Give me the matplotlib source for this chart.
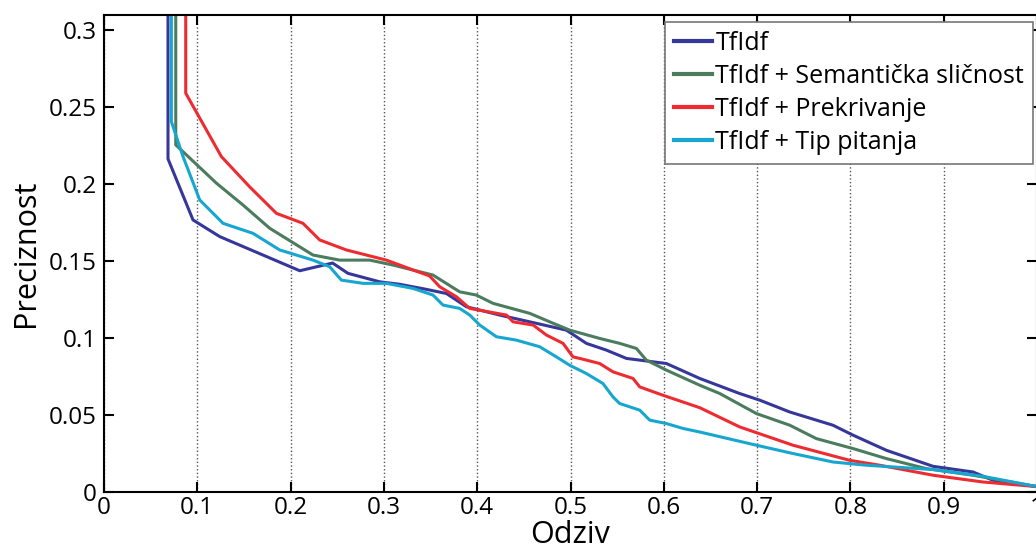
import matplotlib
matplotlib.use("Agg")
from matplotlib import pyplot as plt

plt.rcParams['font.family'] = ['Open Sans', 'DejaVu Sans']

# recall / precision points
tfidf_x = [0.0686, 0.0686, 0.0954, 0.124, 0.2098, 0.245, 0.2615, 0.2955, 0.317, 0.3455,
           0.367, 0.3884, 0.424, 0.4563, 0.4956, 0.517, 0.5385, 0.56, 0.6028, 0.6385,
           0.6813, 0.7028, 0.735, 0.7813, 0.803, 0.8386, 0.8886, 0.9314, 0.953, 1.0]
tfidf_y = [1.0, 0.2165, 0.1768, 0.166, 0.1438, 0.1488, 0.1421, 0.1366, 0.135, 0.1317,
           0.129, 0.1204, 0.115, 0.1106, 0.1052, 0.0966, 0.0922, 0.0868, 0.0835, 0.0738,
           0.064, 0.0597, 0.052, 0.0434, 0.0369, 0.0271, 0.0167, 0.013, 0.0076, 0.0035]

sem_x = [0.0769, 0.0769, 0.1205, 0.149, 0.1776, 0.224, 0.2526, 0.2848, 0.3097, 0.3526,
         0.3812, 0.399, 0.417, 0.4563, 0.4777, 0.4991, 0.5313, 0.5527, 0.5706, 0.5813,
         0.6028, 0.6385, 0.66, 0.6992, 0.735, 0.7635, 0.803, 0.8386, 0.8814, 0.9314, 1.0]
sem_y = [1.0, 0.2256, 0.2007, 0.1865, 0.1714, 0.154, 0.1507, 0.1507, 0.1475, 0.141,
         0.1301, 0.128, 0.1226, 0.1161, 0.1106, 0.1052, 0.0998, 0.0966, 0.0933, 0.0857,
         0.0792, 0.0694, 0.064, 0.051, 0.0434, 0.0347, 0.0282, 0.0217, 0.0152, 0.0109, 0.0035]

prek_x = [0.0876, 0.0876, 0.1258, 0.156, 0.1848, 0.2133, 0.2312, 0.2598, 0.3027, 0.3312,
          0.349, 0.3598, 0.3777, 0.392, 0.4313, 0.4384, 0.46, 0.4742, 0.492, 0.5027,
          0.51, 0.5313, 0.5455, 0.567, 0.5742, 0.599, 0.6385, 0.6813, 0.7385, 0.7992,
          0.8314, 0.8886, 0.942, 1.0]
prek_y = [1.0, 0.2592, 0.218, 0.1984, 0.1811, 0.1746, 0.1638, 0.1573, 0.1507, 0.1443,
          0.1404, 0.1334, 0.1269, 0.1193, 0.115, 0.1106, 0.1085, 0.102, 0.0966, 0.0878,
          0.0868, 0.0835, 0.0781, 0.0738, 0.0683, 0.0629, 0.0548, 0.0423, 0.0304, 0.0206,
          0.0174, 0.0109, 0.0065, 0.0035]

tip_x = [0.0722, 0.0722, 0.0847, 0.1026, 0.1276, 0.1597, 0.1883, 0.224, 0.2419, 0.2544,
         0.2776, 0.3027, 0.3312, 0.3526, 0.3633, 0.3812, 0.392, 0.4027, 0.4206, 0.442,
         0.467, 0.4849, 0.4991, 0.517, 0.5348, 0.5455, 0.5527, 0.5742, 0.5849, 0.6028,
         0.6206, 0.6385, 0.6992, 0.7385, 0.7813, 0.8171, 0.8886, 0.942, 1.0]
tip_y = [1.0, 0.2407, 0.218, 0.1898, 0.1746, 0.1681, 0.1573, 0.1507, 0.1464, 0.1377,
         0.1356, 0.1356, 0.1323, 0.128, 0.1215, 0.1193, 0.115, 0.1085, 0.1009, 0.0987,
         0.0944, 0.0878, 0.0824, 0.077, 0.0705, 0.0618, 0.0575, 0.0532, 0.0467, 0.0445,
         0.0413, 0.039, 0.0304, 0.025, 0.0195, 0.0174, 0.0146, 0.0102, 0.0035]

labels = ['TfIdf', 'TfIdf + Semantička sličnost', 'TfIdf + Prekrivanje', 'TfIdf + Tip pitanja']
colors = ['#36379a', '#4b7c5e', '#ee2b30', '#17a6cf']

fig = plt.figure(figsize=(10.36, 5.52), dpi=100)
ax = fig.add_axes([104 / 1036, 60 / 552, 933 / 1036, 477 / 552])

ax.plot(tfidf_x, tfidf_y, color=colors[0], lw=2.2, label=labels[0])
ax.plot(sem_x, sem_y, color=colors[1], lw=2.2, label=labels[1])
ax.plot(prek_x, prek_y, color=colors[2], lw=2.2, label=labels[2])
ax.plot(tip_x, tip_y, color=colors[3], lw=2.2, label=labels[3])

ax.set_xlim(0, 1)
ax.set_ylim(0, 0.31)
ax.set_xticks([0, 0.1, 0.2, 0.3, 0.4, 0.5, 0.6, 0.7, 0.8, 0.9, 1])
ax.set_xticklabels(['0', '0.1', '0.2', '0.3', '0.4', '0.5', '0.6', '0.7', '0.8', '0.9', '1'])
ax.set_yticks([0, 0.05, 0.1, 0.15, 0.2, 0.25, 0.3])
ax.set_yticklabels(['0', '0.05', '0.1', '0.15', '0.2', '0.25', '0.3'])
ax.tick_params(direction='in', length=7, width=1.5, top=True, right=True, labelsize=17.5)
ax.tick_params(axis='y', pad=5)
ax.tick_params(axis='x', pad=3)
ax.xaxis.grid(True, linestyle=':', color='#555555', lw=1)

for s in ax.spines.values():
    s.set_linewidth(1.5)

ax.set_xlabel('Odziv', fontsize=22, labelpad=0)
ax.set_ylabel('Preciznost', fontsize=22, labelpad=6)

leg = ax.legend(loc='upper right', fontsize=18, handlelength=1.5, handletextpad=0.15,
                labelspacing=0.32, borderpad=0.35, fancybox=False, framealpha=1,
                borderaxespad=0.0, bbox_to_anchor=(0.9955, 0.985))
leg.get_frame().set_edgecolor('#777777')
leg.get_frame().set_linewidth(1.2)
for line in leg.get_lines():
    line.set_linewidth(3)

fig.savefig('out.png', dpi=100)
